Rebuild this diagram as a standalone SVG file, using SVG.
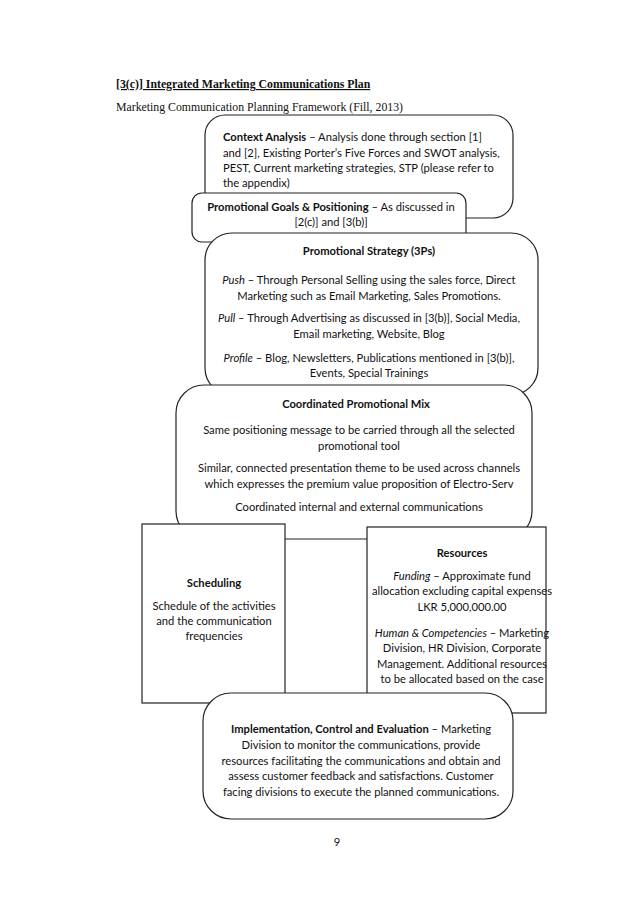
<svg xmlns="http://www.w3.org/2000/svg" width="638" height="903" viewBox="0 0 638 903">
<style>
.bg{fill:#ffffff}
.box{fill:#ffffff;stroke:#222222;stroke-width:1.2}
.t{font-family:Lato,"Liberation Sans",sans-serif;font-size:11.2px;fill:#111111}
.c{text-anchor:middle}
.b{font-weight:bold}
.i{font-style:italic}
.serif{font-family:"Liberation Serif","Times New Roman",serif;font-size:11.8px;fill:#111111}
</style>
<rect class="bg" x="0" y="0" width="638" height="903"/>
<g id="heading">
<text class="serif b" x="116" y="88" text-decoration="underline">[3(c)] Integrated Marketing Communications Plan</text>
<text class="serif" x="116" y="111">Marketing Communication Planning Framework (Fill, 2013)</text>
</g>
<g id="context-analysis">
<rect class="box" x="205" y="115" width="308" height="103" rx="20"/>
<text class="t" x="223" y="140.5"><tspan class="b">Context Analysis</tspan> – Analysis done through section [1]</text>
<text class="t" x="223" y="156.5">and [2], Existing Porter’s Five Forces and SWOT analysis,</text>
<text class="t" x="223" y="172">PEST, Current marketing strategies, STP (please refer to</text>
<text class="t" x="223" y="187">the appendix)</text>
</g>
<g id="promotional-goals">
<rect class="box" x="192" y="193" width="274" height="49" rx="10"/>
<text class="t c" x="331" y="210.5"><tspan class="b">Promotional Goals &amp; Positioning</tspan> – As discussed in</text>
<text class="t c" x="331" y="225.5">[2(c)] and [3(b)]</text>
</g>
<g id="promotional-strategy">
<rect class="box" x="205" y="233" width="333" height="162" rx="27"/>
<text class="t c b" x="369" y="255">Promotional Strategy (3Ps)</text>
<text class="t c" x="369" y="284"><tspan class="i">Push</tspan> – Through Personal Selling using the sales force, Direct</text>
<text class="t c" x="369" y="300">Marketing such as Email Marketing, Sales Promotions.</text>
<text class="t c" x="369" y="322"><tspan class="i">Pull</tspan> – Through Advertising as discussed in [3(b)], Social Media,</text>
<text class="t c" x="369" y="338">Email marketing, Website, Blog</text>
<text class="t c" x="369" y="362"><tspan class="i">Profile</tspan> – Blog, Newsletters, Publications mentioned in [3(b)],</text>
<text class="t c" x="369" y="376.5">Events, Special Trainings</text>
</g>
<g id="coordinated-mix">
<rect class="box" x="176" y="385" width="356" height="154" rx="28"/>
<text class="t c b" x="356" y="408">Coordinated Promotional Mix</text>
<text class="t c" x="359" y="434">Same positioning message to be carried through all the selected</text>
<text class="t c" x="359" y="450">promotional tool</text>
<text class="t c" x="359" y="472">Similar, connected presentation theme to be used across channels</text>
<text class="t c" x="359" y="488">which expresses the premium value proposition of Electro-Serv</text>
<text class="t c" x="359" y="511">Coordinated internal and external communications</text>
</g>
<g id="scheduling">
<rect class="box" x="142" y="524" width="143" height="179"/>
<text class="t c b" x="214" y="586.5">Scheduling</text>
<text class="t c" x="214" y="609.5">Schedule of the activities</text>
<text class="t c" x="214" y="625">and the communication</text>
<text class="t c" x="214" y="640">frequencies</text>
</g>
<g id="resources">
<rect class="box" x="367" y="527" width="179" height="186"/>
<text class="t c b" x="462" y="557">Resources</text>
<text class="t c" x="462" y="580"><tspan class="i">Funding</tspan> – Approximate fund</text>
<text class="t c" x="462" y="595">allocation excluding capital expenses</text>
<text class="t c" x="462" y="611">LKR 5,000,000.00</text>
<text class="t c" x="462" y="636.5"><tspan class="i">Human &amp; Competencies</tspan> – Marketing</text>
<text class="t c" x="462" y="652">Division, HR Division, Corporate</text>
<text class="t c" x="462" y="667.5">Management. Additional resources</text>
<text class="t c" x="462" y="683">to be allocated based on the case</text>
</g>
<g id="implementation">
<rect class="box" x="203" y="693" width="310" height="126" rx="28"/>
<text class="t c" x="361" y="733"><tspan class="b">Implementation, Control and Evaluation</tspan> – Marketing</text>
<text class="t c" x="361" y="749">Division to monitor the communications, provide</text>
<text class="t c" x="361" y="765">resources facilitating the communications and obtain and</text>
<text class="t c" x="361" y="780">assess customer feedback and satisfactions. Customer</text>
<text class="t c" x="361" y="795.5">facing divisions to execute the planned communications.</text>
</g>
<g id="page-number">
<text class="t c" x="337" y="846">9</text>
</g>
</svg>
